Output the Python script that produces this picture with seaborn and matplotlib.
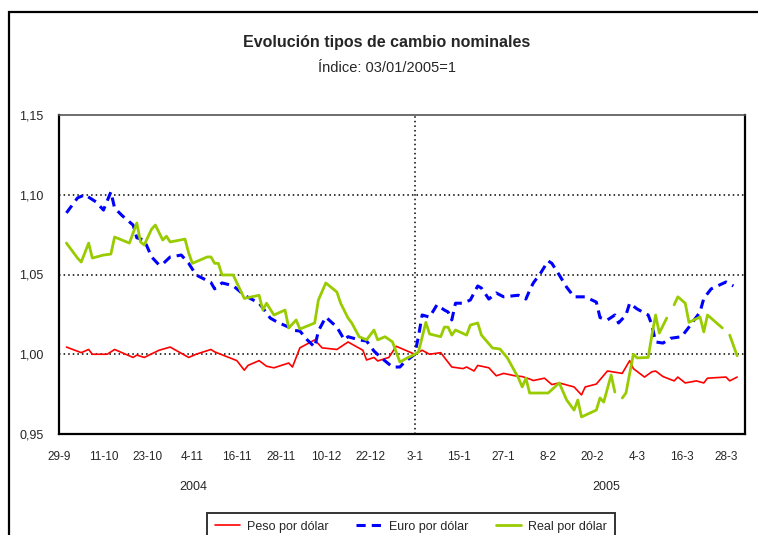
import numpy as np
import pandas as pd
import matplotlib
matplotlib.use("Agg")
import matplotlib.pyplot as plt
import matplotlib.patches as mpatches
import seaborn as sns

# DATOS
PESO_FECHAS = [
    "2004-10-01", "2004-10-05", "2004-10-07", "2004-10-08", "2004-10-12", "2004-10-14",
    "2004-10-19", "2004-10-20", "2004-10-22", "2004-10-26", "2004-10-29", "2004-11-03",
    "2004-11-05", "2004-11-09", "2004-11-10", "2004-11-16", "2004-11-18", "2004-11-19",
    "2004-11-22", "2004-11-24", "2004-11-26", "2004-11-30", "2004-12-01", "2004-12-03",
    "2004-12-07", "2004-12-09", "2004-12-13", "2004-12-16", "2004-12-20", "2004-12-21",
    "2004-12-23", "2004-12-24", "2004-12-27", "2004-12-29", "2004-12-30", "2005-01-03",
    "2005-01-05", "2005-01-07", "2005-01-10", "2005-01-13", "2005-01-16", "2005-01-17",
    "2005-01-19", "2005-01-20", "2005-01-23", "2005-01-25", "2005-01-27", "2005-01-30",
    "2005-02-01", "2005-02-03", "2005-02-04", "2005-02-07", "2005-02-09", "2005-02-11",
    "2005-02-15", "2005-02-17", "2005-02-18", "2005-02-21", "2005-02-24", "2005-02-28",
    "2005-03-02", "2005-03-03", "2005-03-06", "2005-03-08", "2005-03-09", "2005-03-11",
    "2005-03-14", "2005-03-15", "2005-03-17", "2005-03-20", "2005-03-22", "2005-03-23",
    "2005-03-28", "2005-03-29", "2005-03-31",
]
PESO = [
    1.0045, 1.001, 1.003, 1.000, 1.000, 1.003,
    0.998, 0.9995, 0.998, 1.0025, 1.0045, 0.998,
    1.000, 1.003, 1.0015, 0.996, 0.990, 0.993,
    0.996, 0.9925, 0.9915, 0.9945, 0.992, 1.004,
    1.009, 1.004, 1.003, 1.0077, 1.0025, 0.9964,
    0.998, 0.9958, 0.998, 1.005, 1.004, 1.000,
    1.0025, 1.000, 1.001, 0.992, 0.991, 0.992,
    0.9895, 0.993, 0.9915, 0.9865, 0.988, 0.9865,
    0.986, 0.9845, 0.9835, 0.985, 0.981, 0.982,
    0.9795, 0.9745, 0.9795, 0.9813, 0.9895, 0.988,
    0.996, 0.991, 0.9857, 0.989, 0.9895, 0.986,
    0.9833, 0.9857, 0.982, 0.9833, 0.982, 0.985,
    0.9857, 0.9833, 0.9857,
]

EURO_FECHAS = [
    "2004-10-01", "2004-10-04", "2004-10-06", "2004-10-09", "2004-10-11", "2004-10-13",
    "2004-10-14", "2004-10-16", "2004-10-19", "2004-10-20", "2004-10-22", "2004-10-24",
    "2004-10-26", "2004-10-27", "2004-10-29", "2004-11-01", "2004-11-03", "2004-11-05",
    "2004-11-09", "2004-11-10", "2004-11-12", "2004-11-15", "2004-11-17", "2004-11-18",
    "2004-11-22", "2004-11-23", "2004-11-25", "2004-11-27", "2004-11-30", "2004-12-01",
    "2004-12-03", "2004-12-05", "2004-12-07", "2004-12-08", "2004-12-10", "2004-12-13",
    "2004-12-15", "2004-12-16", "2004-12-19", "2004-12-21", "2004-12-23", "2004-12-25",
    "2004-12-28", "2004-12-30", "2004-12-31", "2005-01-03", "2005-01-04", "2005-01-05",
    "2005-01-07", "2005-01-09", "2005-01-11", "2005-01-12", "2005-01-13", "2005-01-14",
    "2005-01-16", "2005-01-18", "2005-01-20", "2005-01-21", "2005-01-23", "2005-01-25",
    "2005-01-27", "2005-01-29", "2005-01-31", "2005-02-02", "2005-02-03", "2005-02-04",
    "2005-02-06", "2005-02-08", "2005-02-09", "2005-02-11", "2005-02-13", "2005-02-15",
    "2005-02-18", "2005-02-21", "2005-02-22", "2005-02-24", "2005-02-26", "2005-02-27",
    "2005-03-01", "2005-03-02", "2005-03-04", "2005-03-07", "2005-03-08", "2005-03-09",
    "2005-03-11", "2005-03-13", "2005-03-16", "2005-03-18", "2005-03-21", "2005-03-22",
    "2005-03-24", "2005-03-28", "2005-03-30",
]
EURO = [
    1.0886, 1.098, 1.100, 1.0955, 1.0904, 1.1018,
    1.0917, 1.087, 1.081, 1.073, 1.0716, 1.061,
    1.056, 1.0566, 1.061, 1.0622, 1.057, 1.0497,
    1.045, 1.041, 1.0447, 1.043, 1.039, 1.037,
    1.032, 1.029, 1.0227, 1.020, 1.017, 1.015,
    1.0146, 1.009, 1.0045, 1.0146, 1.0233, 1.017,
    1.009, 1.011, 1.009, 1.0083, 1.002, 0.9977,
    0.992, 0.992, 0.9945, 1.000, 1.011, 1.0246,
    1.0233, 1.031, 1.0277, 1.0265, 1.0215, 1.032,
    1.032, 1.034, 1.0428, 1.0415, 1.0346, 1.0384,
    1.036, 1.0365, 1.037, 1.0346, 1.040, 1.0447,
    1.051, 1.0585, 1.057, 1.0497, 1.042, 1.036,
    1.036, 1.0327, 1.023, 1.0215, 1.0246, 1.0196,
    1.0246, 1.032, 1.0284, 1.0246, 1.0183, 1.0077,
    1.007, 1.010, 1.011, 1.017, 1.0265, 1.035,
    1.041, 1.0453, 1.0428,
]

REAL_FECHAS = [
    "2004-10-01", "2004-10-04", "2004-10-05", "2004-10-07", "2004-10-08", "2004-10-11",
    "2004-10-13", "2004-10-14", "2004-10-18", "2004-10-20", "2004-10-21", "2004-10-22",
    "2004-10-24", "2004-10-25", "2004-10-27", "2004-10-28", "2004-10-29", "2004-11-02",
    "2004-11-03", "2004-11-04", "2004-11-08", "2004-11-09", "2004-11-10", "2004-11-11",
    "2004-11-12", "2004-11-15", "2004-11-18", "2004-11-22", "2004-11-23", "2004-11-24",
    "2004-11-26", "2004-11-29", "2004-11-30", "2004-12-02", "2004-12-03", "2004-12-07",
    "2004-12-08", "2004-12-10", "2004-12-13", "2004-12-14", "2004-12-16", "2004-12-17",
    "2004-12-19", "2004-12-21", "2004-12-23", "2004-12-24", "2004-12-26", "2004-12-28",
    "2004-12-30", "2005-01-01", "2005-01-03", "2005-01-04", "2005-01-06", "2005-01-07",
    "2005-01-10", "2005-01-11", "2005-01-12", "2005-01-13", "2005-01-14", "2005-01-17",
    "2005-01-18", "2005-01-20", "2005-01-21", "2005-01-24", "2005-01-26", "2005-01-28",
    "2005-01-31", "2005-02-01", "2005-02-02", "2005-02-03", "2005-02-08", "2005-02-11",
    "2005-02-13", "2005-02-15", "2005-02-16", "2005-02-17", "2005-02-21", "2005-02-22",
    "2005-02-23", "2005-02-25", "2005-02-26", "2005-02-27", "2005-02-28", "2005-03-01",
    "2005-03-03", "2005-03-04", "2005-03-07", "2005-03-08", "2005-03-09", "2005-03-10",
    "2005-03-12", "2005-03-13", "2005-03-14", "2005-03-15", "2005-03-17", "2005-03-18",
    "2005-03-21", "2005-03-22", "2005-03-23", "2005-03-27", "2005-03-28", "2005-03-29",
    "2005-03-31",
]
REAL = [
    1.0697, 1.0603, 1.0578, 1.0697, 1.0603, 1.0622,
    1.0628, 1.0735, 1.0697, 1.0823, 1.0704, 1.0685,
    1.0785, 1.081, 1.0716, 1.074, 1.0704, 1.0722,
    1.0635, 1.057, 1.061, 1.061, 1.057, 1.057,
    1.0497, 1.0497, 1.035, 1.037, 1.0277, 1.032,
    1.0246, 1.0277, 1.0165, 1.0215, 1.0158, 1.0196,
    1.034, 1.0447, 1.039, 1.032, 1.0227, 1.0196,
    1.011, 1.009, 1.0152, 1.009, 1.011, 1.0077,
    0.9951, 0.9977, 1.000, 1.0014, 1.020, 1.0127,
    1.011, 1.017, 1.017, 1.012, 1.0152, 1.012,
    1.0183, 1.0196, 1.012, 1.0039, 1.0033, 0.9977,
    0.985, 0.9795, 0.985, 0.9757, 0.9757, 0.982,
    0.9713, 0.965, 0.9713, 0.9607, 0.965, 0.9726,
    0.970, 0.987, 0.9763, np.nan, 0.9726, 0.9757,
    1.000, 0.9977, 0.998, 1.012, 1.0246, 1.0133,
    1.0227, np.nan, 1.031, 1.036, 1.032, 1.020,
    1.0233, 1.014, 1.0246, 1.0165, np.nan, 1.012,
    0.999,
]

TICK_FECHAS = [
    "2004-09-29", "2004-10-11", "2004-10-23", "2004-11-04", "2004-11-16", "2004-11-28",
    "2004-12-10", "2004-12-22", "2005-01-03", "2005-01-15", "2005-01-27", "2005-02-08",
    "2005-02-20", "2005-03-04", "2005-03-16", "2005-03-28",
]
TICK_LABELS = [
    "29-9", "11-10", "23-10", "4-11", "16-11", "28-11", "10-12", "22-12",
    "3-1", "15-1", "27-1", "8-2", "20-2", "4-3", "16-3", "28-3",
]
Y_TICKS = [0.95, 1.00, 1.05, 1.10, 1.15]
Y_LABELS = ["0,95", "1,00", "1,05", "1,10", "1,15"]

TITULO = "Evolución tipos de cambio nominales"
SUBTITULO = "Índice: 03/01/2005=1"

# ESTILO
sns.set_style("white")
plt.rcParams["font.family"] = ["Liberation Sans Narrow", "Liberation Sans", "DejaVu Sans"]

peso_df = pd.DataFrame({"fecha": pd.to_datetime(PESO_FECHAS), "valor": PESO})
euro_df = pd.DataFrame({"fecha": pd.to_datetime(EURO_FECHAS), "valor": EURO})
real_df = pd.DataFrame({"fecha": pd.to_datetime(REAL_FECHAS), "valor": REAL})
real_df["tramo"] = real_df["valor"].isna().cumsum()
real_df = real_df.dropna()

fig = plt.figure(figsize=(7.58, 5.35), dpi=100)
ax = fig.add_axes([59 / 758, 1 - 434 / 535, (745 - 59) / 758, (434 - 115) / 535])

# lineas de referencia
for y in [1.00, 1.05, 1.10]:
    ax.axhline(y, color="black", lw=1.1, ls=(0, (1, 2)), zorder=1)
ax.axvline(pd.Timestamp("2005-01-03"), color="black", lw=1.1, ls=(0, (1, 2)), zorder=1)

sns.lineplot(data=peso_df, x="fecha", y="valor", ax=ax, color="#FF0000", lw=1.2,
             label="Peso por dólar", zorder=3)
sns.lineplot(data=euro_df, x="fecha", y="valor", ax=ax, color="#0000FF", lw=2.2,
             linestyle=(0, (3, 2)), label="Euro por dólar", zorder=4)
sns.lineplot(data=real_df, x="fecha", y="valor", units="tramo", estimator=None, ax=ax,
             color="#99CC00", lw=2.0, label="Real por dólar", zorder=5)

ax.set_xlim(pd.Timestamp("2004-09-29"), pd.Timestamp("2005-04-02 03:00"))
ax.set_ylim(0.95, 1.15)
ax.set_xticks(pd.to_datetime(TICK_FECHAS))
ax.set_xticklabels(TICK_LABELS, fontsize=8.5)
ax.set_yticks(Y_TICKS)
ax.set_yticklabels(Y_LABELS, fontsize=9)
ax.tick_params(axis="x", direction="in", length=4, width=1.2, pad=12, color="black")
ax.tick_params(axis="y", length=0, pad=11)
ax.set_xlabel("")
ax.set_ylabel("")
for lado, sp in ax.spines.items():
    sp.set_visible(True)
    sp.set_color("black")
    sp.set_linewidth(1.6)
ax.spines["top"].set_color("#555555")
ax.spines["top"].set_linewidth(1.2)

# textos
fig.text(387 / 758, 1 - 42 / 535, TITULO, ha="center", va="center", fontsize=11.5,
         fontweight="bold")
fig.text(387 / 758, 1 - 68 / 535, SUBTITULO, ha="center", va="center", fontsize=10.5)
fig.text(193 / 758, 1 - 487 / 535, "2004", ha="center", va="center", fontsize=9)
fig.text(606 / 758, 1 - 487 / 535, "2005", ha="center", va="center", fontsize=9)

# leyenda
handles, labels = ax.get_legend_handles_labels()
unicos = dict(zip(labels, handles))
ax.get_legend().remove()
leg = fig.legend(list(unicos.values()), list(unicos.keys()), ncol=3,
                 loc="upper center", bbox_to_anchor=(411 / 758, 1 - 507 / 535),
                 frameon=True, fancybox=False, fontsize=9, handlelength=2.0,
                 handletextpad=0.6, columnspacing=2.2, borderpad=0.6)
leg.get_frame().set_edgecolor("black")
leg.get_frame().set_linewidth(1.4)

# marco exterior
fig.patches.append(mpatches.Rectangle((9 / 758, -0.1), 1.2, 1 - 12 / 535 + 0.1,
                                      transform=fig.transFigure, fill=False,
                                      edgecolor="black", lw=1.6))

fig.savefig("out.png", dpi=100)
